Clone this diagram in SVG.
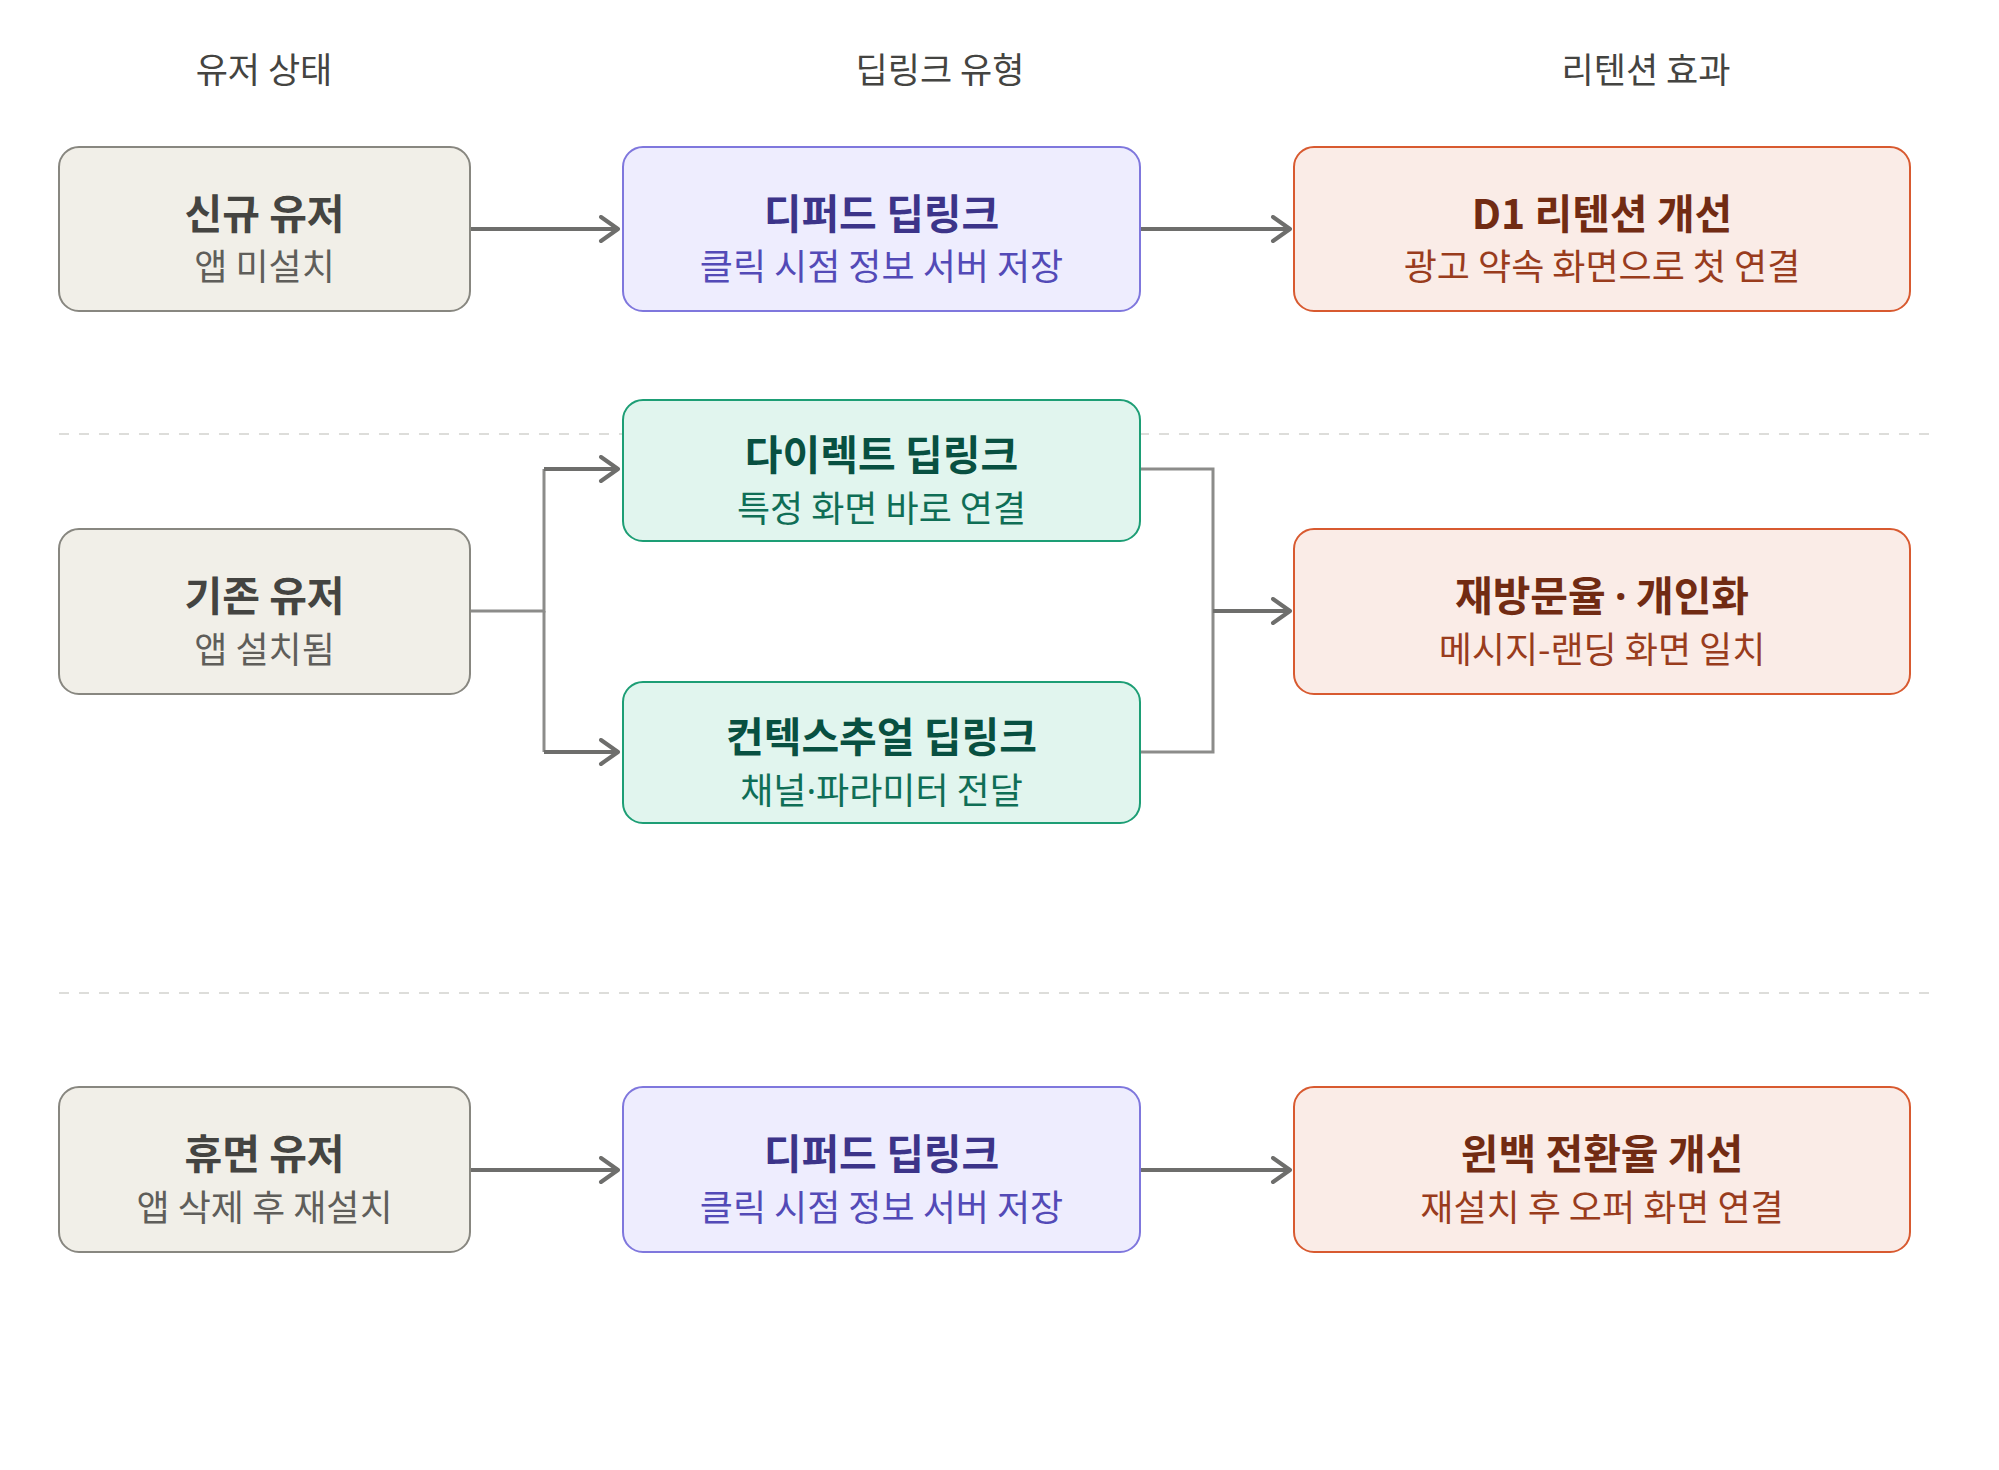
<svg xmlns="http://www.w3.org/2000/svg" width="1999" height="1470" viewBox="0 0 1999 1470">
<style>
text{font-family:"Noto Sans CJK KR","Noto Sans",sans-serif;text-anchor:middle}
.dot{font-family:"Noto Sans","DejaVu Sans",sans-serif}
.hdr{font-size:35px;fill:#444441}
.t{font-size:41px;font-weight:700}
.s{font-size:36px}
.gray rect{fill:#F1EFE8;stroke:#888780;stroke-width:2}
.gray .t{fill:#444441}.gray .s{fill:#5F5E5A}
.purple rect{fill:#EEEDFE;stroke:#7F77DD;stroke-width:2}
.purple .t{fill:#3C3489}.purple .s{fill:#534AB7}
.teal rect{fill:#E1F5EE;stroke:#1D9E75;stroke-width:2}
.teal .t{fill:#085041}.teal .s{fill:#0F6E56}
.coral rect{fill:#FAECE7;stroke:#D85A30;stroke-width:2}
.coral .t{fill:#712B13}.coral .s{fill:#993C1D}
.sep{stroke:#DDDDDA;stroke-width:2;stroke-dasharray:10 10;fill:none}
.ln{fill:none;stroke:#8C8C8A;stroke-width:3}
.ar{fill:none;stroke:#6E6E6C;stroke-width:4;marker-end:url(#ah)}
</style>
<defs>
<marker id="ah" markerUnits="userSpaceOnUse" viewBox="-20 -14 24 28" refX="0" refY="0" markerWidth="24" markerHeight="28" orient="auto">
<path d="M-17 -12 L0 0 L-17 12" fill="none" stroke="#6E6E6C" stroke-width="4" stroke-linecap="round" stroke-linejoin="round"/>
</marker>
</defs>
<rect width="1999" height="1470" fill="#FFFFFF"/>
<g id="separators">
<line class="sep" x1="59" y1="434" x2="1938" y2="434"/>
<line class="sep" x1="59" y1="993" x2="1938" y2="993"/>
</g>
<g id="headers">
<text class="hdr" x="264" y="83">유저 상태</text>
<text class="hdr" x="940" y="83">딥링크 유형</text>
<text class="hdr" x="1646" y="83">리텐션 효과</text>
</g>
<g id="connectors">
<path class="ar" d="M470 229 H618"/>
<path class="ar" d="M1140 229 H1290"/>
<path class="ln" d="M470 611 H544 V469"/>
<path class="ln" d="M544 611 V752"/>
<path class="ar" d="M544 469 H618"/>
<path class="ar" d="M544 752 H618"/>
<path class="ln" d="M1140 469 H1213 V752 H1140"/>
<path class="ar" d="M1213 611 H1290"/>
<path class="ar" d="M470 1170 H618"/>
<path class="ar" d="M1140 1170 H1290"/>
</g>
<g id="n-new-user" class="gray">
<rect x="59" y="147" width="411" height="164" rx="20"/>
<text class="t" x="264.5" y="228.5">신규 유저</text>
<text class="s" x="264.5" y="280">앱 미설치</text>
</g>
<g id="n-deferred-1" class="purple">
<rect x="623" y="147" width="517" height="164" rx="20"/>
<text class="t" x="881.5" y="228.5">디퍼드 딥링크</text>
<text class="s" x="881.5" y="280">클릭 시점 정보 서버 저장</text>
</g>
<g id="n-d1" class="coral">
<rect x="1294" y="147" width="616" height="164" rx="20"/>
<text class="t" x="1602" y="228.5">D1 리텐션 개선</text>
<text class="s" x="1602" y="280">광고 약속 화면으로 첫 연결</text>
</g>
<g id="n-existing" class="gray">
<rect x="59" y="529" width="411" height="165" rx="20"/>
<text class="t" x="264.5" y="611">기존 유저</text>
<text class="s" x="264.5" y="662.5">앱 설치됨</text>
</g>
<g id="n-direct" class="teal">
<rect x="623" y="400" width="517" height="141" rx="20"/>
<text class="t" x="881.5" y="470">다이렉트 딥링크</text>
<text class="s" x="881.5" y="521.5">특정 화면 바로 연결</text>
</g>
<g id="n-contextual" class="teal">
<rect x="623" y="682" width="517" height="141" rx="20"/>
<text class="t" x="881.5" y="752">컨텍스추얼 딥링크</text>
<text class="s" x="881.5" y="803.5">채널<tspan class="dot">·</tspan>파라미터 전달</text>
</g>
<g id="n-revisit" class="coral">
<rect x="1294" y="529" width="616" height="165" rx="20"/>
<text class="t" x="1602" y="611">재방문율 <tspan class="dot">·</tspan> 개인화</text>
<text class="s" x="1602" y="662.5">메시지-랜딩 화면 일치</text>
</g>
<g id="n-dormant" class="gray">
<rect x="59" y="1087" width="411" height="165" rx="20"/>
<text class="t" x="264.5" y="1169">휴면 유저</text>
<text class="s" x="264.5" y="1220.5">앱 삭제 후 재설치</text>
</g>
<g id="n-deferred-2" class="purple">
<rect x="623" y="1087" width="517" height="165" rx="20"/>
<text class="t" x="881.5" y="1169">디퍼드 딥링크</text>
<text class="s" x="881.5" y="1220.5">클릭 시점 정보 서버 저장</text>
</g>
<g id="n-winback" class="coral">
<rect x="1294" y="1087" width="616" height="165" rx="20"/>
<text class="t" x="1602" y="1169">윈백 전환율 개선</text>
<text class="s" x="1602" y="1220.5">재설치 후 오퍼 화면 연결</text>
</g>
</svg>
